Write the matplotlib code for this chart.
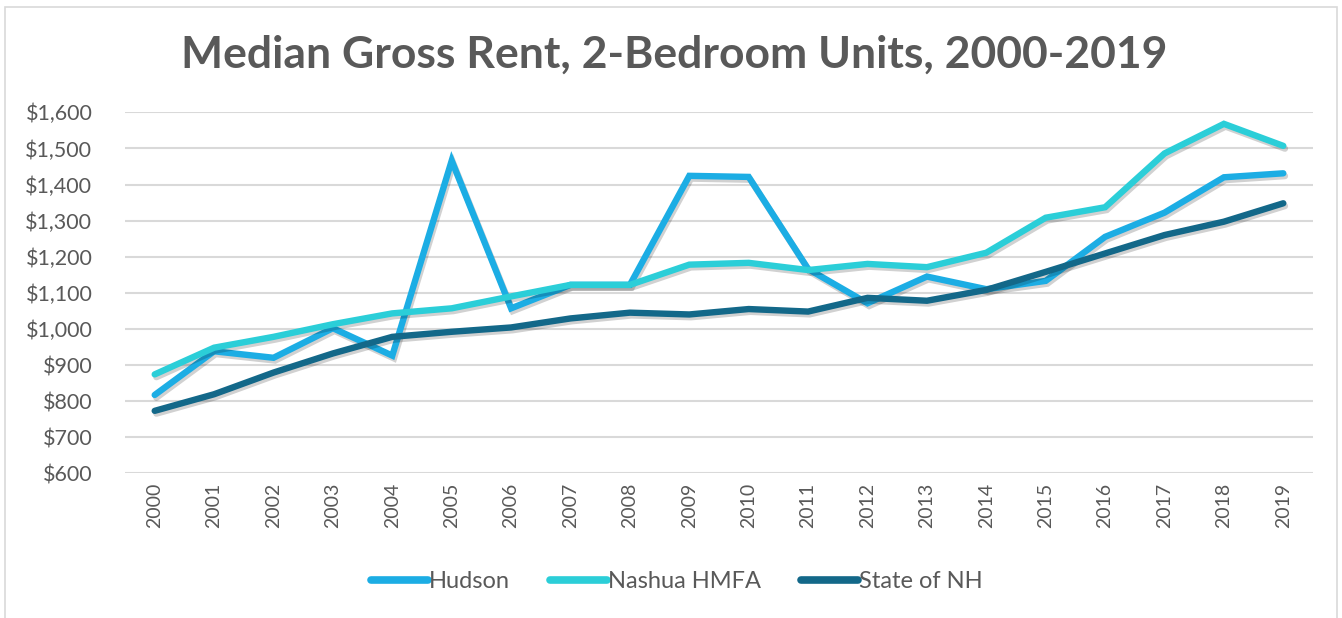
import matplotlib.pyplot as plt
import matplotlib.patheffects as pe
from matplotlib.patches import Rectangle

# Median gross rent, 2-bedroom units
years = [str(y) for y in range(2000, 2020)]
hudson = [817, 938, 920, 1002, 926, 1466, 1057, 1122, 1122, 1424, 1421,
          1166, 1071, 1145, 1110, 1133, 1255, 1322, 1420, 1431]
nashua = [874, 948, 978, 1013, 1043, 1057, 1090, 1122, 1122, 1178, 1183,
          1163, 1180, 1171, 1211, 1308, 1337, 1486, 1568, 1507]
state_nh = [773, 819, 879, 932, 978, 992, 1004, 1029, 1045, 1040, 1055,
            1048, 1086, 1078, 1108, 1158, 1209, 1260, 1297, 1348]

series = [("Hudson", hudson, "#1CADE4"),
          ("Nashua HMFA", nashua, "#2BCED8"),
          ("State of NH", state_nh, "#136889")]

text_col = "#595959"
plt.rcParams['font.family'] = ['Lato', 'DejaVu Sans']

fig = plt.figure(figsize=(13.42, 6.18), dpi=100, facecolor='white')
# light chart-area border
fig.patches.append(Rectangle((5 / 1342, -0.01), 1332 / 1342, 1 - 7 / 618 + 0.01,
                             transform=fig.transFigure, fill=False,
                             edgecolor='#D9D9D9', linewidth=1.2))

ax = fig.add_axes([125 / 1342, 1 - 473.3 / 618, 1188 / 1342, 361 / 618])

x = range(len(years))
shadow = [pe.SimpleLineShadow(offset=(1.2, -2), shadow_color='black', alpha=0.18),
          pe.Normal()]
for name, vals, col in series:
    ax.plot(x, vals, color=col, lw=4.6, label=name, solid_capstyle='round',
            solid_joinstyle='miter', path_effects=shadow, zorder=3)

ax.set_xlim(-0.5, len(years) - 0.5)
ax.set_ylim(600, 1600)
ax.set_yticks(range(600, 1601, 100))
ax.set_yticklabels([f"${v:,}" for v in range(600, 1601, 100)])
ax.set_xticks(list(x))
ax.set_xticklabels(years, rotation=90)
ax.tick_params(axis='both', length=0, colors=text_col)
ax.tick_params(axis='y', pad=23.5, labelsize=15.5)
ax.tick_params(axis='x', pad=7, labelsize=14)
ax.grid(axis='y', color='#D9D9D9', lw=1.5)
ax.set_axisbelow(True)
for s in ax.spines.values():
    s.set_visible(False)

fig.text(0.5025, 1 - 55 / 618, "Median Gross Rent, 2-Bedroom Units, 2000-2019",
         ha='center', va='center', fontsize=32, fontweight='bold', color=text_col)

leg = fig.legend(loc='center', bbox_to_anchor=(677 / 1342, 1 - 582 / 618), ncol=3,
                 frameon=False, fontsize=17, handlelength=2.4, handletextpad=0.05,
                 columnspacing=1.7, labelcolor=text_col)
for h in leg.get_lines():
    h.set_linewidth(5.5)
    h.set_solid_capstyle('round')
    h.set_path_effects([])

fig.savefig('out.png', dpi=100, facecolor='white')
